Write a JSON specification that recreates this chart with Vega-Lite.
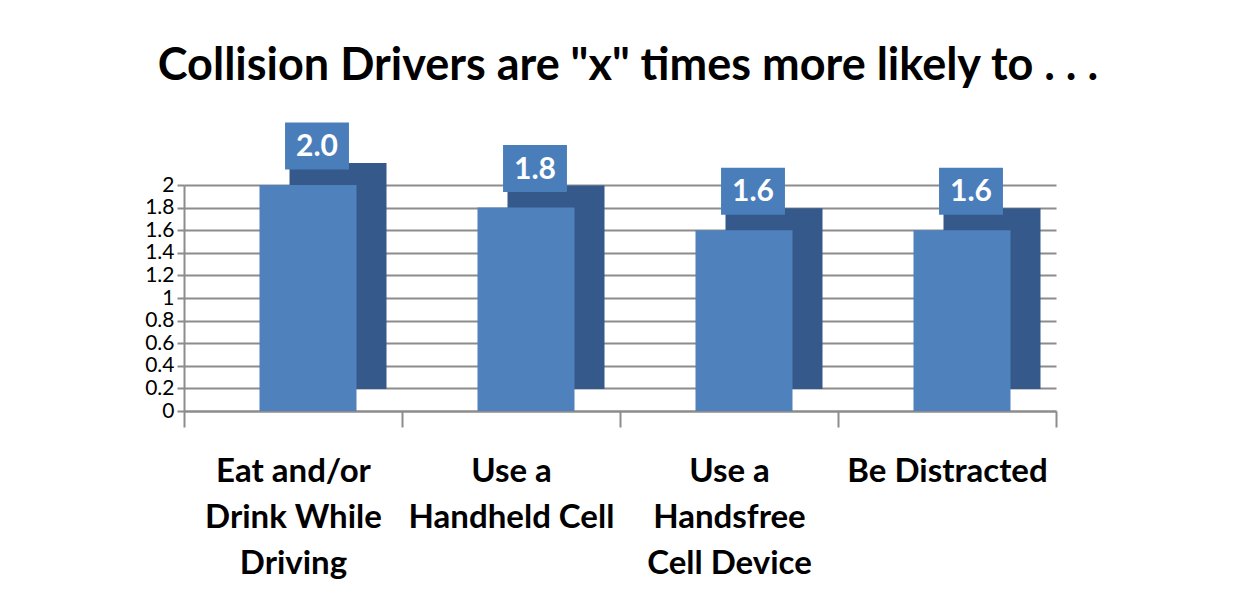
{
  "$schema": "https://vega.github.io/schema/vega-lite/v6.json",
  "width": 872,
  "height": 226,
  "autosize": {"type": "none"},
  "padding": {"left": 184, "top": 185, "right": 189, "bottom": 202},
  "background": "white",
  "title": {
    "text": "Collision Drivers are \"x\" times more likely to . . .",
    "font": "Lato",
    "fontSize": 45,
    "fontWeight": "bold",
    "color": "black",
    "anchor": "middle",
    "frame": "group",
    "baseline": "bottom",
    "offset": 34,
    "dy": 45,
    "dx": 8
  },
  "config": {"view": {"stroke": null}},
  "data": {
    "values": [
      {"behavior": "Eat and/or Drink While Driving", "times": 2.0},
      {"behavior": "Use a Handheld Cell", "times": 1.8},
      {"behavior": "Use a Handsfree Cell Device", "times": 1.6},
      {"behavior": "Be Distracted", "times": 1.6}
    ]
  },
  "encoding": {
    "x": {
      "field": "behavior",
      "type": "nominal",
      "sort": null,
      "scale": {"paddingInner": 0, "paddingOuter": 0},
      "axis": {
        "title": null,
        "labelAngle": 0,
        "labelFont": "Lato",
        "labelFontSize": 33,
        "labelFontWeight": "bold",
        "labelColor": "black",
        "labelLineHeight": 46,
        "labelPadding": 28,
        "labelLimit": 0,
        "tickSize": 16,
        "tickBand": "extent",
        "tickColor": "#8c8c8c",
        "tickWidth": 2,
        "domainColor": "#8c8c8c",
        "domainWidth": 2,
        "grid": false,
        "labelExpr": "datum.value == 'Eat and/or Drink While Driving' ? ['Eat and/or','Drink While','Driving'] : datum.value == 'Use a Handheld Cell' ? ['Use a','Handheld Cell'] : datum.value == 'Use a Handsfree Cell Device' ? ['Use a','Handsfree','Cell Device'] : datum.value"
      }
    },
    "y": {
      "field": "times",
      "type": "quantitative",
      "scale": {"domain": [0, 2], "nice": false},
      "axis": {
        "title": null,
        "values": [0, 0.2, 0.4, 0.6, 0.8, 1, 1.2, 1.4, 1.6, 1.8, 2],
        "format": "~g",
        "labelFont": "Lato",
        "labelFontSize": 21,
        "labelColor": "black",
        "labelPadding": 3,
        "domainColor": "#8c8c8c",
        "domainWidth": 2,
        "tickColor": "#8c8c8c",
        "tickSize": 7,
        "tickWidth": 2,
        "grid": true,
        "gridColor": "#8c8c8c",
        "gridWidth": 2
      }
    }
  },
  "layer": [
    {
      "mark": {"type": "bar", "color": "#35598a", "width": {"band": 0.445}, "xOffset": 45, "yOffset": -22, "y2Offset": -22}
    },
    {
      "mark": {"type": "bar", "color": "#4F81BD", "width": {"band": 0.445}, "xOffset": 15}
    },
    {
      "mark": {"type": "point", "shape": "M-1.36,-1L1.36,-1L1.36,1L-1.36,1Z", "size": 2209, "filled": true, "color": "#4A7EBB", "opacity": 1, "xOffset": 24, "yOffset": -39}
    },
    {
      "mark": {"type": "text", "font": "Lato", "fontSize": 30, "fontWeight": "bold", "color": "white", "baseline": "middle", "align": "center", "xOffset": 24, "yOffset": -38},
      "encoding": {"text": {"field": "times", "type": "quantitative", "format": ".1f"}}
    }
  ]
}
